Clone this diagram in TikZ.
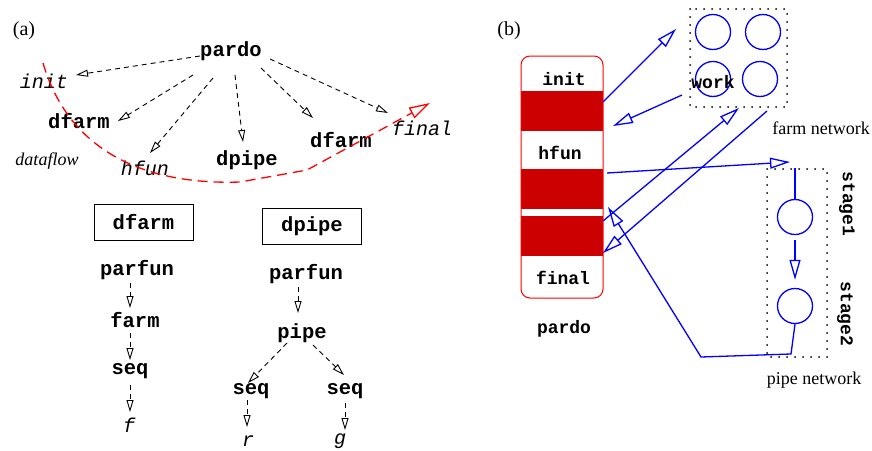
\documentclass[tikz,border=0pt]{standalone}
\usepackage{fontspec}
\setmainfont{Liberation Serif}
\setmonofont{Liberation Mono}
\usetikzlibrary{arrows.meta}
\definecolor{bandred}{RGB}{204,0,0}
\definecolor{lineblue}{RGB}{0,0,255}
\tikzset{
  tb/.style={font=\fontsize{20.5}{24}\selectfont\ttfamily\bfseries, inner sep=0pt},
  ti/.style={font=\fontsize{20}{24}\selectfont\ttfamily\itshape, inner sep=0pt},
  tbs/.style={font=\fontsize{18}{21}\selectfont\ttfamily\bfseries, inner sep=0pt},
  rml/.style={font=\fontsize{20}{24}\selectfont, inner sep=0pt},
  rms/.style={font=\fontsize{18}{21}\selectfont, inner sep=0pt},
  rmi/.style={font=\fontsize{18}{21}\selectfont\itshape, inner sep=0pt},
  darr/.style={draw=black, line width=0.9pt, dash pattern=on 5pt off 4pt,
    -{Triangle[open,length=12pt,width=7pt]}},
  barr/.style={draw=lineblue, line width=1.3pt,
    -{Triangle[open,length=20pt,width=11pt]}},
  bline/.style={draw=lineblue, line width=1.3pt},
  bcirc/.style={circle, draw=lineblue, line width=1.3pt, minimum size=35pt, inner sep=0pt},
  dotbox/.style={draw=black, line width=2pt, dash pattern=on 0pt off 8pt, line cap=round},
  lbox/.style={draw=black, line width=0.9pt, minimum width=99pt, minimum height=36pt, inner sep=0pt},
}
\begin{document}
\begin{tikzpicture}[x=1pt,y=-1pt]
\useasboundingbox (0,0) rectangle (872,450);

% ---------------- (a) ----------------
\node[rml] (la) at (24,31) {(a)};
\node[tb] (pardo) at (231,51) {pardo};
\node[ti] (init) at (44,81) {init};
\node[tb] (dfarmL) at (79,121) {dfarm};
\node[rmi] (dataflow) at (47,161) {dataflow};
\node[ti] (hfun) at (145,168) {hfun};
\node[tb] (dpipe) at (247,160) {dpipe};
\node[tb] (dfarmR) at (341,140) {dfarm};
\node[ti] (final) at (422,128) {final};

\coordinate (p1) at (200,56);  \coordinate (q1) at (76,75);
\coordinate (p2) at (193,75);  \coordinate (q2) at (118,121);
\coordinate (p3) at (213,78);  \coordinate (q3) at (150,153);
\coordinate (p4) at (235,75);  \coordinate (q4) at (243,142);
\coordinate (p5) at (261,68);  \coordinate (q5) at (313,118);
\coordinate (p6) at (270,59);  \coordinate (q6) at (388,113);
\draw[darr] (p1) -- (q1);
\draw[darr] (p2) -- (q2);
\draw[darr] (p3) -- (q3);
\draw[darr] (p4) -- (q4);
\draw[darr] (p5) -- (q5);
\draw[darr] (p6) -- (q6);

% dataflow curve
\coordinate (f0) at (43,63);
\coordinate (f1) at (240,182);
\coordinate (f2) at (307,170);
\coordinate (f3) at (430,103);
\draw[red, line width=1.3pt, dash pattern=on 10pt off 6pt,
  -{Triangle[open,length=21pt,width=12pt,sep=0pt]}]
  (f0) .. controls (70,155) and (150,185) .. (f1) -- (f2) -- (f3);

% left tree
\node[lbox, tb] (boxF) at (143.5,222) {dfarm};
\node[tb] (parfunA) at (137,270) {parfun};
\node[tb] (farmA) at (135,320) {farm};
\node[tb] (seqA) at (130,371) {seq};
\node[ti] (fA) at (129,425) {f};
\coordinate (a1) at (130,283); \coordinate (a2) at (130,308);
\coordinate (a3) at (130,333); \coordinate (a4) at (130,360);
\coordinate (a5) at (130,385); \coordinate (a6) at (130,412);
\draw[darr] (a1) -- (a2);
\draw[darr] (a3) -- (a4);
\draw[darr] (a5) -- (a6);

% right tree
\node[lbox, tb] (boxP) at (312,226) {dpipe};
\node[tb] (parfunB) at (306,274) {parfun};
\node[tb] (pipeB) at (302,333) {pipe};
\node[tb] (seqB) at (251,391) {seq};
\node[tb] (seqC) at (345,391) {seq};
\node[ti] (rB) at (248,441) {r};
\node[ti] (gC) at (340,441) {g};
\coordinate (b1) at (298,287); \coordinate (b2) at (298,313);
\coordinate (b3) at (287,343); \coordinate (b4) at (248,383);
\coordinate (b5) at (313,345); \coordinate (b6) at (344,375);
\coordinate (b7) at (247,400); \coordinate (b8) at (247,427);
\coordinate (b9) at (345,403); \coordinate (b10) at (345,430);
\draw[darr] (b1) -- (b2);
\draw[darr] (b3) -- (b4);
\draw[darr] (b5) -- (b6);
\draw[darr] (b7) -- (b8);
\draw[darr] (b9) -- (b10);

% ---------------- (b) ----------------
\node[rml] (lb) at (509,31) {(b)};
% pardo column
\fill[bandred] (521,91) rectangle (603,131);
\fill[bandred] (521,169) rectangle (603,209);
\fill[bandred] (521,216) rectangle (603,256);
\draw[red, line width=1pt, rounded corners=9pt] (521,56) rectangle (603,298);
\node[tbs] (initB) at (564,79) {init};
\node[tbs] (hfunB) at (560,153) {hfun};
\node[tbs] (finalB) at (563,278) {final};
\node[tbs] (pardoB) at (564,329) {pardo};

% farm network
\draw[dotbox] (690,9) rectangle (787,107);
\node[bcirc] (w1) at (713,32) {};
\node[bcirc] (w2) at (763,32) {};
\node[bcirc] (w3) at (713,79) {};
\node[bcirc] (w4) at (760,79) {};
\node[tbs] (work) at (713,82) {work};
\node[rms] (farmnet) at (821,128) {farm network};

% pipe network
\draw[dotbox] (767,169) rectangle (827,357);
\node[bcirc] (s1) at (795,217) {};
\node[bcirc] (s2) at (795,306) {};
\node[tbs, rotate=-90] (st1) at (847,204) {stage1};
\node[tbs, rotate=-90] (st2) at (845,314) {stage2};
\node[rms] (pipenet) at (814,380) {pipe network};
\coordinate (ptop) at (795,168);
\draw[bline] (ptop) -- (s1.north);
\draw[barr, shorten <=5pt, shorten >=8pt] (s1) -- (s2);

% blue arrows
\coordinate (e1s) at (603,102); \coordinate (e1t) at (676,29);
\coordinate (e2s) at (682,95);  \coordinate (e2t) at (613,126);
\coordinate (e3s) at (607,173); \coordinate (e3t) at (790,162);
\coordinate (e4s) at (603,221); \coordinate (e4t) at (739,108);
\coordinate (e5s) at (767,111); \coordinate (e5t) at (603,253);
\coordinate (e6a) at (791,354); \coordinate (e6b) at (701,357);
\coordinate (e6t) at (608,207);
\draw[barr] (e1s) -- (e1t);
\draw[barr] (e2s) -- (e2t);
\draw[barr] (e3s) -- (e3t);
\draw[barr] (e4s) -- (e4t);
\draw[barr] (e5s) -- (e5t);
\draw[barr] (s2.south) -- (e6a) -- (e6b) -- (e6t);
\end{tikzpicture}
\end{document}
